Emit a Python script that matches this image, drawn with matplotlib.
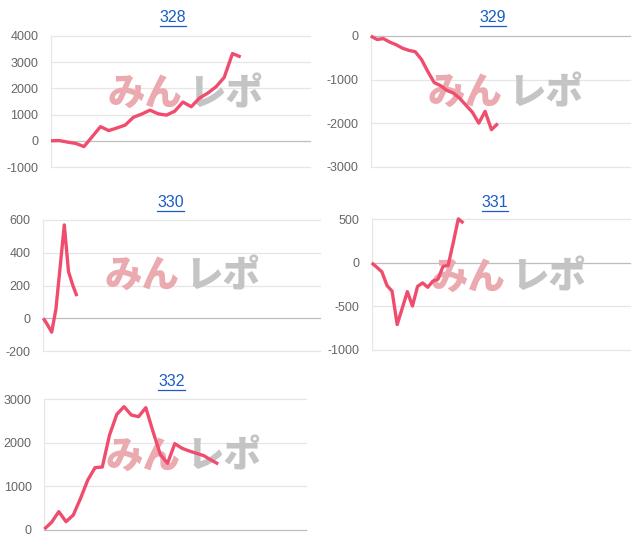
import matplotlib
matplotlib.use('Agg')
import matplotlib.pyplot as plt
from matplotlib.lines import Line2D
import numpy as np

plt.rcParams['font.family'] = ['Liberation Sans', 'DejaVu Sans']
plt.rcParams['axes.unicode_minus'] = False

# ---- data ----
titles = ["328", "329", "330", "331", "332"]
s328 = [0, 10, -50, -100, -220, 160, 540, 390, 490, 600, 900, 1020, 1170, 1030, 980,
        1130, 1480, 1300, 1630, 1820, 2060, 2420, 3330, 3200]
s329 = [0, -80, -60, -140, -200, -280, -330, -360, -540, -820, -1070, -1140, -1250,
        -1310, -1430, -1590, -1750, -2000, -1730, -2150, -2010]
s330 = [0, -40, -85, 55, 310, 570, 285, 203, 135]
s331 = [0, -50, -103, -260, -325, -708, -520, -330, -495, -270, -230, -280, -210,
        -188, -40, -30, 230, 505, 457]
s332 = [20, 176, 421, 191, 344, 727, 1148, 1431, 1446, 2181, 2655, 2831, 2640, 2601,
        2808, 2257, 1737, 1530, 1982, 1875, 1813, 1760, 1706, 1607, 1515]
yticks328 = [-1000, 0, 1000, 2000, 3000, 4000]
yticks329 = [-3000, -2000, -1000, 0]
yticks330 = [-200, 0, 200, 400, 600]
yticks331 = [-1000, -500, 0, 500]
yticks332 = [0, 1000, 2000, 3000]
watermark_a = "みん"
watermark_b = "レポ"

# ---- layout (pixels) ----
W, H = 640, 546
LINE = "#f04d6e"
GRID = "#e6e6e6"
ZERO = "#bdbdbd"
TICK = "#666666"
LINK = "#1c5cc6"

panels = [
    # title, series, yticks, (left, top, right, bottom), xmax, title center, watermark origin
    (titles[0], s328, yticks328, (51, 36, 310, 167), 31.4, (173, 17.5), (108, 94)),
    (titles[1], s329, yticks329, (370.7, 36, 630, 166.7), 40.8, (493, 17.5), (428, 93)),
    (titles[2], s330, yticks330, (43.3, 220, 320, 351), 65.9, (170.7, 202.5), (105, 276)),
    (titles[3], s331, yticks331, (371.7, 219.3, 630, 350), 50.7, (495, 202.5), (431, 277.5)),
    (titles[4], s332, yticks332, (44.3, 399.3, 306, 530), 36.1, (171.7, 381), (106, 456.5)),
]

fig = plt.figure(figsize=(W / 100, H / 100), dpi=100)
title_texts = []

for title, s, yt, (l, t, r, b), xmax, (tcx, tcy), (wx, wy) in panels:
    ax = fig.add_axes([l / W, 1 - b / H, (r - l) / W, (b - t) / H])
    ax.set_xlim(0, xmax)
    ax.set_ylim(yt[0], yt[-1])
    ax.set_yticks(yt)
    ax.set_yticklabels([str(v) for v in yt])
    ax.set_xticks([])
    for sp in ax.spines.values():
        sp.set_visible(False)
    ax.tick_params(axis='y', length=0, pad=9, labelsize=9, labelcolor=TICK)
    for y in yt:
        ax.axhline(y, color=ZERO if y == 0 else GRID, lw=0.9, zorder=0.5, clip_on=False)
    ax.axvline(0, color=GRID, lw=0.9, zorder=0.5)
    ax.plot(np.arange(len(s)), s, color=LINE, lw=2.4, solid_joinstyle='round',
            solid_capstyle='butt', zorder=3, clip_on=False)
    ax.text(wx / W, 1 - wy / H, watermark_a, transform=fig.transFigure,
            family=['Noto Sans CJK JP', 'DejaVu Sans'], fontweight='black', fontsize=27,
            color='#eaaab0', ha='left', va='center', zorder=1)
    ax.text((wx + 80) / W, 1 - wy / H, watermark_b, transform=fig.transFigure,
            family=['Noto Sans CJK JP', 'DejaVu Sans'], fontweight='black', fontsize=27,
            color='#c4c4c4', ha='left', va='center', zorder=1)
    tt = fig.text(tcx / W, 1 - tcy / H, title, ha='center', va='center',
                  fontsize=11.5, color=LINK)
    title_texts.append(tt)

fig.canvas.draw()
renderer = fig.canvas.get_renderer()
for tt in title_texts:
    bb = tt.get_window_extent(renderer)
    y = bb.y0 - 1.0
    fig.add_artist(Line2D([bb.x0 / W, bb.x1 / W], [y / H, y / H],
                          transform=fig.transFigure, color=LINK, lw=0.9))

fig.savefig("out.png", dpi=100)
